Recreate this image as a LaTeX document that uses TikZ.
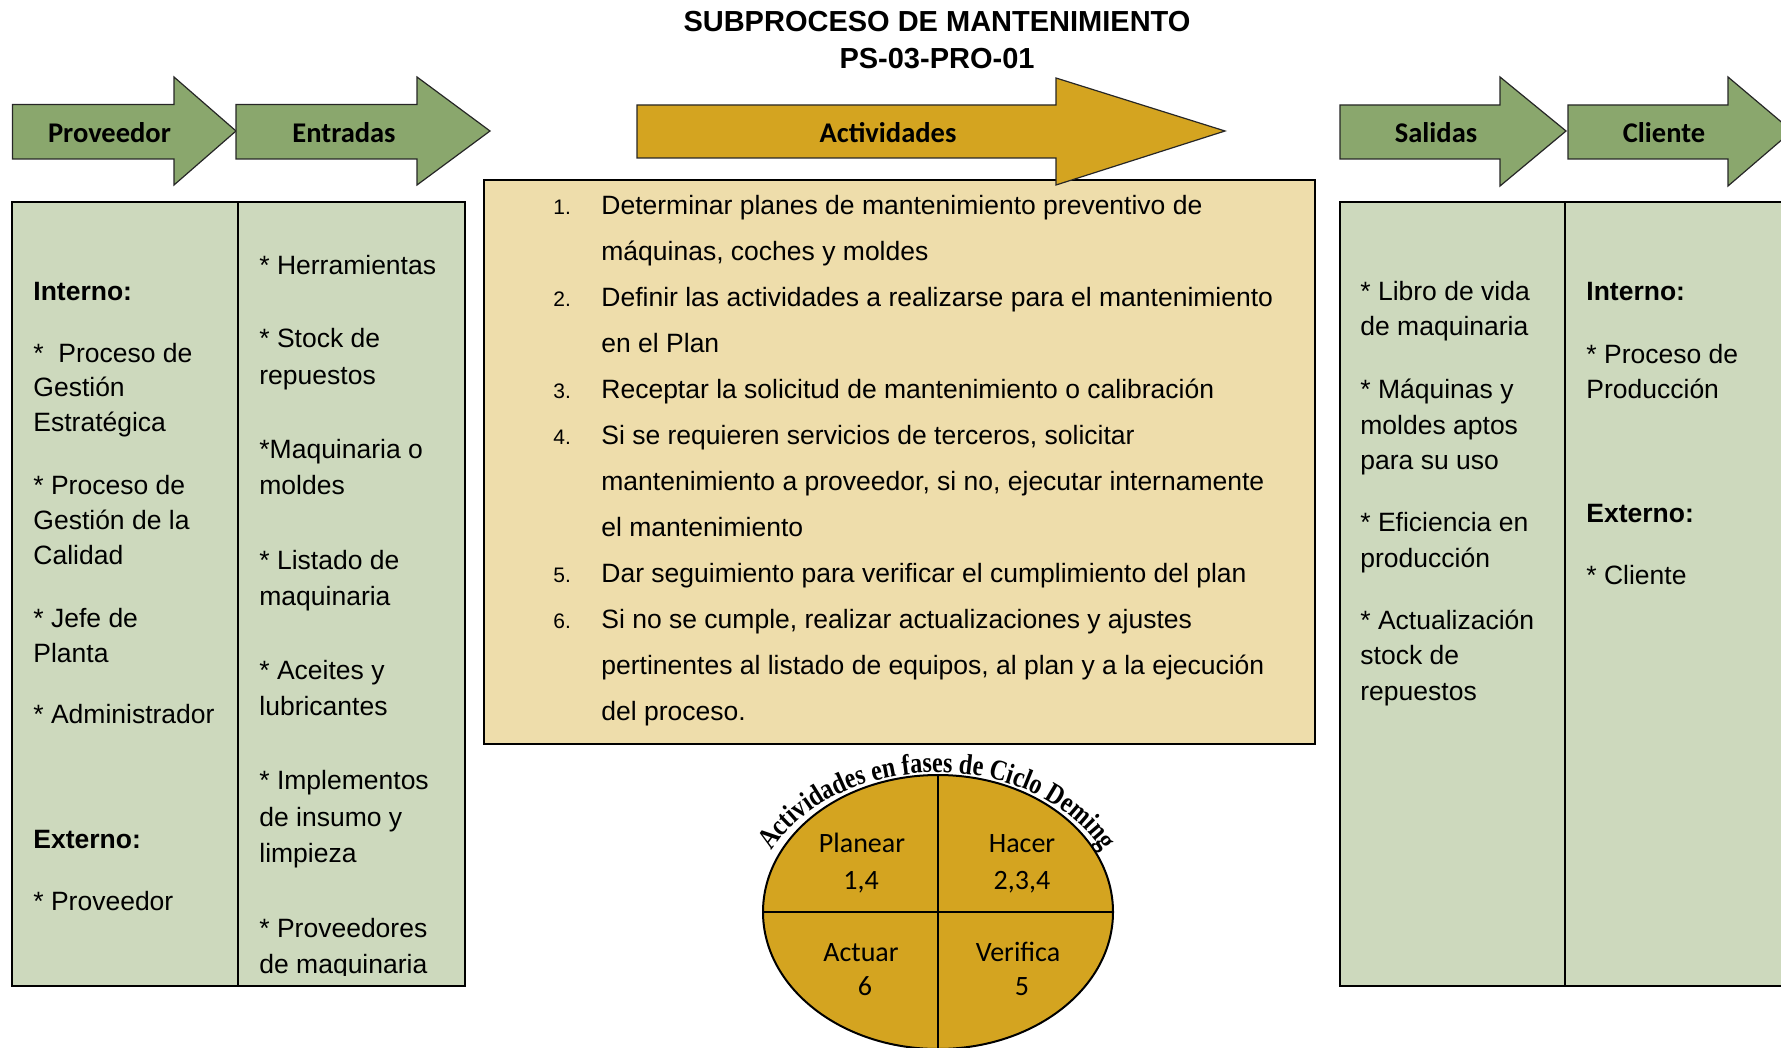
\documentclass[tikz,border=0pt]{standalone}
\usepackage{fontspec}
\setmainfont{Liberation Sans}
\newfontfamily\calibri{Carlito}
\newfontfamily\timesf[FakeStretch=0.83]{Liberation Serif}
\usetikzlibrary{shapes.geometric,decorations.text}
\definecolor{arrowgreen}{HTML}{8AA76D}
\definecolor{tablegreen}{HTML}{CDD9BD}
\definecolor{goldfill}{HTML}{D4A420}
\definecolor{wheatfill}{HTML}{EEDDAB}
\begin{document}
\begin{tikzpicture}[x=0.5pt,y=-0.5pt,
  garrow/.style={fill=arrowgreen, draw=black!85, line width=0.6pt, line join=miter},
  yarrow/.style={fill=goldfill, draw=black!85, line width=0.6pt, line join=miter},
  hdr/.style={font=\calibri\bfseries\fontsize{14.25}{16}\selectfont, anchor=base, inner sep=0},
  ttl/.style={font=\bfseries\fontsize{14.5}{17}\selectfont, anchor=base, inner sep=0},
  txt/.style={font=\fontsize{13.25}{16}\selectfont, anchor=base west, inner sep=0},
  txtb/.style={font=\bfseries\fontsize{13.25}{16}\selectfont, anchor=base west, inner sep=0},
  num/.style={font=\fontsize{10.5}{12}\selectfont, anchor=base west, inner sep=0},
  quad/.style={font=\calibri\fontsize{14}{16}\selectfont, anchor=base, inner sep=0},
  tbl/.style={fill=tablegreen, draw=black, line width=1.1pt}
]
\useasboundingbox (0,0) rectangle (1781,1048);
\clip (0,0) rectangle (1781,1048);

% title
\node[ttl] (title1) at (937,32) {SUBPROCESO DE MANTENIMIENTO};
\node[ttl] (title2) at (937,68.5) {PS-03-PRO-01};

% left table
\path[tbl] (12,202) rectangle (465,986);
\draw[line width=1.1pt] (238,202) -- (238,986);
% right table
\path[tbl] (1340,202) rectangle (1795,986);
\draw[line width=1.1pt] (1565,202) -- (1565,986);
% activity box
\path[fill=wheatfill, draw=black, line width=1pt] (484,180) rectangle (1315,744);

% header arrows
\path[garrow] (12.5,104.5) -- (174,104.5) -- (174,77) -- (236,131) -- (174,185) -- (174,159) -- (12.5,159) -- cycle;
\path[garrow] (236,104.5) -- (417,104.5) -- (417,77) -- (490,131) -- (417,185) -- (417,159) -- (236,159) -- cycle;
\path[yarrow] (637,105) -- (1056,105) -- (1056,78) -- (1225,131) -- (1056,185) -- (1056,158) -- (637,158) -- cycle;
\path[garrow] (1340,105) -- (1500,105) -- (1500,77) -- (1566,131) -- (1500,186) -- (1500,159) -- (1340,159) -- cycle;
\path[garrow] (1568,105) -- (1728,105) -- (1728,77) -- (1792,131) -- (1728,186) -- (1728,159) -- (1568,159) -- cycle;

\node[hdr] (hProv) at (109.5,142.5) {Proveedor};
\node[hdr] (hEnt) at (344,142.5) {Entradas};
\node[hdr] (hAct) at (888,142.5) {Actividades};
\node[hdr] (hSal) at (1436,142.5) {Salidas};
\node[hdr] (hCli) at (1664,142.5) {Cliente};

% Proveedor column
\node[txtb] (pv1) at (33,300) {Interno:};
\node[txt] (pv2) at (33,362) {*\ \ Proceso de};
\node[txt] (pv3) at (33,396.5) {Gestión};
\node[txt] (pv4) at (33,431) {Estratégica};
\node[txt] (pv5) at (33,494.5) {* Proceso de};
\node[txt] (pv6) at (33,529.5) {Gestión de la};
\node[txt] (pv7) at (33,564) {Calidad};
\node[txt] (pv8) at (33,627) {* Jefe de};
\node[txt] (pv9) at (33,662) {Planta};
\node[txt] (pv10) at (33,723.5) {* Administrador};
\node[txtb] (pv11) at (33,848) {Externo:};
\node[txt] (pv12) at (33,910) {* Proveedor};

% Entradas column
\begin{scope}
\clip (238,202) rectangle (465,975);
\node[txt] (en1) at (259,274) {* Herramientas};
\node[txt] (en2) at (259,347.5) {* Stock de};
\node[txt] (en3) at (259,384) {repuestos};
\node[txt] (en4) at (259,458) {*Maquinaria o};
\node[txt] (en5) at (259,494) {moldes};
\node[txt] (en6) at (259,569) {* Listado de};
\node[txt] (en7) at (259,605) {maquinaria};
\node[txt] (en8) at (259,679) {* Aceites y};
\node[txt] (en9) at (259,715.5) {lubricantes};
\node[txt] (en10) at (259,789.5) {* Implementos};
\node[txt] (en11) at (259,826) {de insumo y};
\node[txt] (en12) at (259,862) {limpieza};
\node[txt] (en13) at (259,937) {* Proveedores};
\node[txt] (en14) at (259,973) {de maquinaria};
\end{scope}

% Salidas column
\node[txt] (sa1) at (1360,300) {* Libro de vida};
\node[txt] (sa2) at (1360,335.5) {de maquinaria};
\node[txt] (sa3) at (1360,398) {* Máquinas y};
\node[txt] (sa4) at (1360,434) {moldes aptos};
\node[txt] (sa5) at (1360,469) {para su uso};
\node[txt] (sa6) at (1360,531) {* Eficiencia en};
\node[txt] (sa7) at (1360,567) {producción};
\node[txt] (sa8) at (1360,629) {* Actualización};
\node[txt] (sa9) at (1360,664) {stock de};
\node[txt] (sa10) at (1360,700) {repuestos};

% Cliente column
\node[txtb] (cl1) at (1586,300) {Interno:};
\node[txt] (cl2) at (1586,363) {* Proceso de};
\node[txt] (cl3) at (1586,398) {Producción};
\node[txtb] (cl4) at (1586,522) {Externo:};
\node[txt] (cl5) at (1586,584) {* Cliente};

% activity list
\node[num] (n1) at (553,214) {1.};
\node[txt] (a1) at (601,214) {Determinar planes de mantenimiento preventivo de};
\node[txt] (a1b) at (601,260) {máquinas, coches y moldes};
\node[num] (n2) at (553,306) {2.};
\node[txt] (a2) at (601,306) {Definir las actividades a realizarse para el mantenimiento};
\node[txt] (a2b) at (601,352) {en el Plan};
\node[num] (n3) at (553,398) {3.};
\node[txt] (a3) at (601,398) {Receptar la solicitud de mantenimiento o calibración};
\node[num] (n4) at (553,444) {4.};
\node[txt] (a4) at (601,444) {Si se requieren servicios de terceros, solicitar};
\node[txt] (a4b) at (601,490) {mantenimiento a proveedor, si no, ejecutar internamente};
\node[txt] (a4c) at (601,536) {el mantenimiento};
\node[num] (n5) at (553,582) {5.};
\node[txt] (a5) at (601,582) {Dar seguimiento para verificar el cumplimiento del plan};
\node[num] (n6) at (553,628) {6.};
\node[txt] (a6) at (601,628) {Si no se cumple, realizar actualizaciones y ajustes};
\node[txt] (a6b) at (601,674) {pertinentes al listado de equipos, al plan y a la ejecución};
\node[txt] (a6c) at (601,720) {del proceso.};

% Deming ellipse
\node[ellipse, draw=black, line width=1pt, fill=goldfill, minimum width=175pt, minimum height=137pt, inner sep=0pt, outer sep=0pt] (deming) at (938,912) {};
\draw[line width=1pt] (deming.north) -- (deming.south);
\draw[line width=1pt] (deming.west) -- (deming.east);

\node[quad] (q1a) at (862,852.5) {Planear};
\node[quad] (q1b) at (861,889) {1,4};
\node[quad] (q2a) at (1022,852.5) {Hacer};
\node[quad] (q2b) at (1022,889) {2,3,4};
\node[quad] (q3a) at (861,961) {Actuar};
\node[quad] (q3b) at (865,995.5) {6};
\node[quad] (q4a) at (1018,961) {Verifica};
\node[quad] (q4b) at (1022,995.5) {5};

\path[decorate, decoration={text along path, text align=center,
  text={|\timesf\bfseries\fontsize{14.5}{16}\selectfont|Actividades en fases de Ciclo Deming}}]
  (767.7,857.3) arc[start angle=203, end angle=337, x radius=184, y radius=139];
\end{tikzpicture}
\end{document}
